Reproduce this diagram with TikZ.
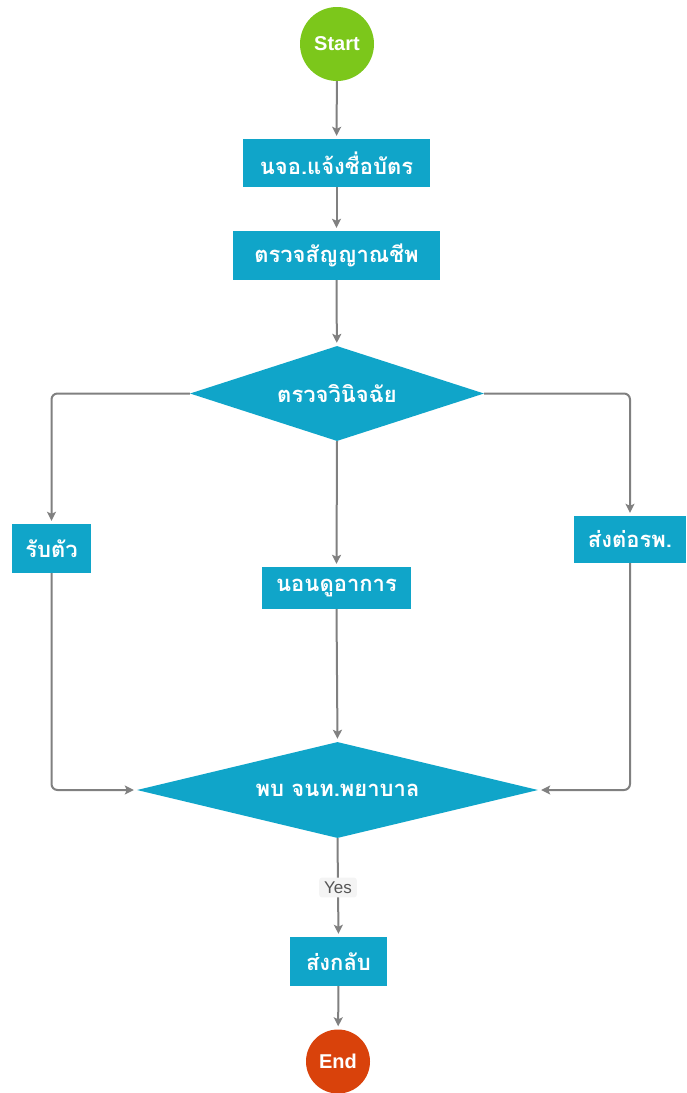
\documentclass[tikz,border=0pt]{standalone}
\usepackage{fontspec}
\setmainfont{Liberation Sans}
\newfontfamily\thaifont[Script=Thai]{Loma}
\usetikzlibrary{shapes.geometric,arrows.meta}
\definecolor{boxc}{HTML}{10A5C9}
\definecolor{startc}{HTML}{7CC71B}
\definecolor{endc}{HTML}{D9420B}
\definecolor{linec}{HTML}{808080}
\definecolor{yesbg}{HTML}{F4F4F4}
\definecolor{yestext}{HTML}{555555}
\begin{document}
\begin{tikzpicture}[x=1pt,y=-1pt,
  proc/.style={rectangle, fill=boxc, text=white, inner sep=0pt,
    font=\thaifont\bfseries\fontsize{22}{24}\selectfont},
  dec/.style={diamond, fill=boxc, text=white, inner sep=0pt,
    font=\thaifont\bfseries\fontsize{22}{24}\selectfont},
  term/.style={circle, inner sep=0pt, text=white,
    font=\bfseries\fontsize{20}{22}\selectfont},
  conn/.style={draw=linec, line width=2pt, rounded corners=6pt, shorten >=3pt,
    -{Stealth[length=9pt,width=9pt,inset=2pt]}},
  yes/.style={fill=yesbg, text=yestext, rounded corners=3pt, inner xsep=5pt, inner ysep=4pt,
    font=\fontsize{17}{19}\selectfont}
]
\useasboundingbox (0,0) rectangle (686,1093);
\fill[white] (0,0) rectangle (686,1093);

\node[term, fill=startc, minimum size=74pt] (start) at (337,44) {Start};
\node[proc, minimum width=187pt, minimum height=48pt] (b1) at (336.5,163) {นจอ.แจ้งชื่อบัตร};
\node[proc, minimum width=207pt, minimum height=49pt] (b2) at (336.5,255.5) {ตรวจสัญญาณชีพ};
\node[dec, aspect=3.1, minimum width=294pt, minimum height=95pt] (d1) at (337,393.5) {ตรวจวินิจฉัย};
\node[proc, minimum width=79pt, minimum height=49pt] (rb) at (51.5,548.5) {รับตัว};
\node[proc, minimum width=149pt, minimum height=42pt] (nd) at (336.5,588) {นอนดูอาการ};
\node[proc, minimum width=112pt, minimum height=47pt] (sp) at (630,539.5) {ส่งต่อรพ.};
\node[dec, aspect=4.2, minimum width=401pt, minimum height=96pt] (d2) at (337.5,790) {พบ จนท.พยาบาล};
\node[proc, minimum width=97pt, minimum height=49pt] (sg) at (338.5,961.5) {ส่งกลับ};
\node[term, fill=endc, minimum size=64pt] (end) at (338,1061.5) {End};

\draw[conn] (start) -- (b1);
\draw[conn] (b1) -- (b2);
\draw[conn] (b2) -- (d1);
\draw[conn] (d1.west) -| (rb.north);
\draw[conn] (d1.east) -| (sp.north);
\draw[conn] (d1.south) -- (nd.north);
\draw[conn] (nd.south) -- (d2.north);
\draw[conn] (rb.south) |- (d2.west);
\draw[conn] (sp.south) |- (d2.east);
\draw[conn] (d2.south) -- node[yes] (yl) {Yes} (sg.north);
\draw[conn] (sg) -- (end);
\end{tikzpicture}
\end{document}
